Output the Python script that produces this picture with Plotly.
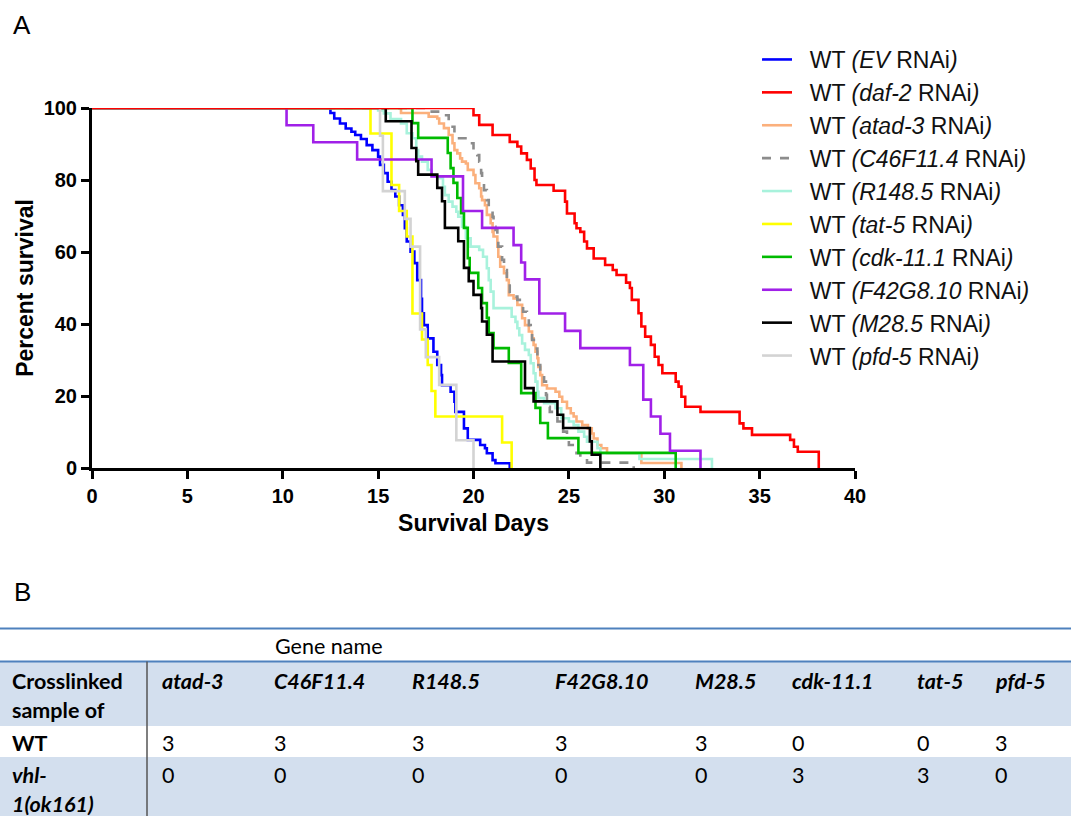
import plotly.graph_objects as go

# ---------------- Survival data (days, percent surviving after each step) ----------------
ev_days = [12.5, 12.7, 13.0, 13.3, 13.6, 13.8, 14.1, 14.4, 14.7, 15.0, 15.1, 15.3, 15.5, 15.7, 15.9,
           16.1, 16.3, 16.4, 16.5, 16.7, 16.9, 17.05, 17.25, 17.3, 17.4, 17.6, 17.9, 18.1, 18.3, 18.35,
           18.8, 19.0, 19.05, 19.5, 19.7, 20.35, 20.6, 20.7, 21.0, 21.15, 21.9]
ev_pct = [98.6, 97.1, 95.7, 94.3, 93.4, 92.5, 91.4, 89.7, 88.3, 86.5, 84.2, 81.9, 79.5, 77.2, 75.4,
          73.0, 70.3, 66.6, 62.9, 60.1, 56.9, 52.2, 47.0, 43.0, 39.7, 36.0, 32.3, 28.6, 25.8, 23.0,
          21.2, 18.4, 15.6, 11.0, 7.8, 6.4, 5.5, 4.1, 2.2, 1.3, 0.0]

daf2_days = [20.0, 20.3, 21.0, 21.9, 22.3, 22.5, 22.8, 23.0, 23.2, 23.3, 24.2, 24.8, 24.9, 25.3, 25.4,
             25.6, 25.8, 25.95, 26.3, 26.9, 27.3, 27.5, 28.0, 28.2, 28.3, 28.65, 28.8, 29.0, 29.3, 29.5,
             29.7, 29.9, 30.6, 30.75, 30.9, 31.1, 31.9, 33.95, 34.15, 34.6, 36.6, 36.8, 37.0, 38.1]
daf2_pct = [98.0, 95.3, 92.5, 90.6, 89.3, 87.4, 85.6, 83.2, 80.0, 78.6, 77.0, 74.0, 70.7, 68.0, 66.6,
            65.6, 62.9, 61.0, 58.2, 56.4, 55.0, 53.6, 51.5, 50.0, 46.7, 43.0, 39.3, 36.5, 34.2, 30.9,
            28.6, 26.3, 24.0, 22.6, 19.8, 17.0, 15.6, 12.4, 11.0, 9.2, 7.8, 5.9, 4.5, 0.0]

atad3_days = [16.2, 17.65, 18.1, 18.2, 18.45, 18.7, 18.9, 19.0, 19.15, 19.3, 19.4, 19.6, 19.7, 20.0,
              20.1, 20.3, 20.4, 20.45, 20.6, 20.7, 20.9, 21.0, 21.05, 21.25, 21.3, 21.4, 21.6, 21.75,
              21.85, 22.1, 22.3, 22.55, 22.7, 22.9, 23.07, 23.15, 23.25, 23.35, 23.4, 23.5, 23.6, 23.85,
              24.3, 24.5, 24.65, 24.9, 25.1, 25.25, 25.4, 25.7, 26.0, 26.2, 26.3, 26.5, 26.7, 27.0,
              28.8, 30.9]
atad3_pct = [98.6, 97.6, 97.1, 95.7, 94.4, 92.5, 90.2, 88.3, 87.4, 86.0, 85.1, 84.6, 82.8, 81.4,
             79.1, 77.7, 75.4, 74.4, 73.0, 70.3, 68.0, 65.6, 64.3, 61.5, 58.7, 55.9, 54.1, 52.2,
             48.0, 47.1, 45.3, 41.6, 39.7, 37.9, 36.0, 34.2, 32.3, 30.5, 28.1, 25.8, 23.0, 22.1,
             21.2, 19.8, 18.4, 16.6, 15.2, 14.3, 12.9, 11.9, 11.0, 9.6, 8.2, 6.4, 5.5, 4.1,
             1.4, 0.0]

c46_days = [17.6, 18.35, 18.7, 18.8, 19.0, 19.15, 19.85, 20.0, 20.2, 20.3, 20.4, 20.45, 20.55, 20.7,
            20.8, 21.0, 21.05, 21.15, 21.25, 21.3, 21.5, 21.6, 21.75, 21.9, 22.3, 22.55, 22.6, 22.8,
            22.9, 23.0, 23.07, 23.25, 23.35, 23.4, 23.5, 23.7, 23.8, 23.85, 23.95, 24.0, 24.2, 24.4,
            24.55, 24.7, 24.9, 25.0, 25.4, 25.6, 25.95, 28.4]
c46_pct = [99.0, 98.0, 96.4, 94.8, 93.0, 91.6, 90.2, 88.3, 86.9, 85.1, 81.9, 79.5, 77.2, 74.4,
           72.6, 69.8, 67.0, 66.1, 63.3, 61.5, 57.8, 55.0, 52.2, 47.6, 46.7, 45.3, 43.4, 41.6,
           39.7, 37.4, 35.6, 33.2, 30.9, 28.6, 26.8, 24.0, 20.3, 18.4, 17.0, 15.6, 14.3, 12.9,
           11.5, 10.1, 8.2, 6.4, 4.1, 2.7, 1.5, 0.0]

r148_days = [15.0, 15.3, 15.65, 16.2, 16.5, 16.8, 17.0, 17.1, 17.3, 17.6, 17.8, 18.1, 18.4, 18.5,
             18.7, 18.9, 19.1, 19.2, 19.4, 19.6, 19.85, 20.3, 20.5, 20.7, 20.8, 20.9, 21.05, 22.0,
             22.2, 22.3, 22.4, 22.55, 22.7, 22.9, 23.0, 23.15, 23.25, 23.35, 23.4, 23.7, 24.3, 24.6,
             25.0, 25.25, 25.5, 25.8, 25.95, 26.5, 26.65, 28.7, 32.5]
r148_pct = [99.3, 98.5, 96.9, 95.7, 93.0, 91.6, 88.3, 86.5, 85.1, 82.8, 81.4, 80.5, 78.1, 75.8,
            74.0, 72.6, 71.2, 69.8, 67.0, 63.8, 61.5, 60.6, 58.7, 55.5, 52.2, 49.0, 44.4, 42.0,
            40.6, 38.8, 36.9, 34.6, 32.8, 31.4, 29.1, 26.3, 24.0, 21.2, 19.4, 18.0, 16.6, 13.8,
            12.9, 11.9, 10.1, 8.7, 7.3, 5.5, 4.1, 2.5, 0.0]

tat5_days = [14.6, 15.7, 16.1, 16.5, 16.8, 17.3, 17.6, 17.8, 18.0, 21.5, 22.0]
tat5_pct = [92.9, 78.6, 71.4, 64.3, 42.9, 35.7, 28.6, 21.4, 14.3, 7.1, 0.0]

cdk11_days = [16.8, 17.1, 18.65, 18.8, 18.95, 19.15, 19.35, 19.5, 19.7, 19.8, 20.25, 20.45, 20.7,
              20.8, 21.05, 21.85, 22.5, 23.25, 23.5, 23.9, 25.5, 30.6]
cdk11_pct = [95.8, 91.7, 87.5, 83.3, 79.2, 75.0, 70.8, 66.7, 58.3, 54.2, 50.0, 45.8, 41.7,
             37.5, 33.3, 29.2, 20.8, 16.7, 12.5, 8.3, 4.2, 0.0]

f42_days = [10.2, 11.6, 13.9, 17.8, 19.45, 20.45, 22.1, 22.5, 22.7, 23.45, 24.8, 25.6, 28.2, 28.9,
            29.3, 29.8, 30.3, 31.9]
f42_pct = [95.2, 90.5, 85.7, 81.0, 71.4, 66.7, 61.9, 57.1, 52.4, 42.9, 38.1, 33.3, 28.6, 19.0,
           14.3, 9.5, 4.8, 0.0]

m28_days = [15.4, 16.75, 17.0, 17.1, 18.1, 18.35, 18.5, 19.2, 19.5, 19.75, 20.0, 20.4, 20.45, 20.7,
            21.0, 22.7, 23.15, 24.4, 24.7, 26.1, 26.2, 26.65]
m28_pct = [96.3, 88.9, 85.2, 81.5, 77.8, 74.1, 66.7, 63.0, 55.6, 51.9, 48.1, 44.4, 40.7, 37.0,
           29.6, 22.2, 18.5, 14.8, 11.1, 7.4, 3.7, 0.0]

pfd5_days = [15.1, 15.25, 16.4, 16.7, 17.2, 17.5, 18.2, 19.1, 20.0]
pfd5_pct = [92.3, 76.9, 69.2, 61.5, 38.5, 30.8, 23.1, 7.7, 0.0]

series_names = ["EV", "daf-2", "atad-3", "C46F11.4", "R148.5", "tat-5", "cdk-11.1", "F42G8.10",
                "M28.5", "pfd-5"]
series_days = [ev_days, daf2_days, atad3_days, c46_days, r148_days, tat5_days, cdk11_days, f42_days,
               m28_days, pfd5_days]
series_pct = [ev_pct, daf2_pct, atad3_pct, c46_pct, r148_pct, tat5_pct, cdk11_pct, f42_pct,
              m28_pct, pfd5_pct]
series_colors = ["#0000FF", "#FF0000", "#FBB07C", "#8C8C8C", "#A8F2DC", "#FFFF00", "#00BB00",
                 "#A020E8", "#000000", "#D3D3D3"]

# ---------------- Table data ----------------
gene_cols = ["atad-3", "C46F11.4", "R148.5", "F42G8.10", "M28.5", "cdk-11.1", "tat-5", "pfd-5"]
wt_counts = [3, 3, 3, 3, 3, 0, 0, 3]
vhl_counts = [0, 0, 0, 0, 0, 3, 3, 0]

# ---------------- Page geometry ----------------
W, H = 1071, 816
PL, PR, PT, PB = 92, 855, 108, 468   # plot area in pixels


def fx(px):
    return (px - PL) / (PR - PL)


def fy(py):
    return (PB - py) / (PB - PT)


AX_FONT = "Liberation Sans, Arial, sans-serif"
TB_FONT = "Lato, Open Sans, sans-serif"

fig = go.Figure()

# draw order: daf-2 last so its 100 % line sits on top
draw_order = [0, 2, 3, 4, 5, 6, 7, 8, 9, 1]
for i in draw_order:
    name = series_names[i]
    fig.add_trace(go.Scatter(
        x=[0] + series_days[i],
        y=[100] + series_pct[i],
        mode="lines",
        line=dict(color=series_colors[i], width=2.6, shape="hv",
                  dash="dash" if name == "C46F11.4" else "solid"),
        name=f"&nbsp;&nbsp;WT <i>({name}</i> RNAi<i>)</i>",
        legendrank=i + 1,
    ))

fig.update_layout(
    width=W, height=H,
    margin=dict(l=PL, r=W - PR, t=PT, b=H - PB, pad=0),
    paper_bgcolor="white", plot_bgcolor="white",
    showlegend=True,
    legend=dict(x=fx(757), y=fy(38), xanchor="left", yanchor="top",
                font=dict(family=AX_FONT, size=23, color="#111"),
                bgcolor="rgba(0,0,0,0)", borderwidth=0, tracegroupgap=0),
    xaxis=dict(range=[0, 40], tickmode="array", tickvals=list(range(0, 41, 5)),
               showline=True, linewidth=3, linecolor="black", mirror=False,
               ticks="outside", ticklen=8, tickwidth=3, tickcolor="black",
               showgrid=False, zeroline=False,
               tickfont=dict(family=AX_FONT, size=20, color="black", weight="bold"),
               title=dict(text="Survival Days", standoff=9,
                          font=dict(family=AX_FONT, size=23, color="black", weight="bold"))),
    yaxis=dict(range=[0, 100], tickmode="array", tickvals=list(range(0, 101, 20)),
               showline=True, linewidth=3, linecolor="black",
               ticks="outside", ticklen=8, tickwidth=3, tickcolor="black",
               showgrid=False, zeroline=False,
               tickfont=dict(family=AX_FONT, size=20, color="black", weight="bold"),
               title=dict(text="Percent survival", standoff=4,
                          font=dict(family=AX_FONT, size=23, color="black", weight="bold"))),
)

annotations = []
shapes = []

# panel letters
for letter, ly in [("A", 25), ("B", 592)]:
    annotations.append(dict(text=letter, x=fx(22), y=fy(ly), xref="paper", yref="paper",
                            xanchor="center", yanchor="middle", showarrow=False,
                            font=dict(family=AX_FONT, size=26, color="black")))

# ---------------- Table (panel B) ----------------
SHADE = "#D3DFEE"
RULE = "#4F81BD"
for y0, y1 in [(661.5, 726), (757, 816)]:
    shapes.append(dict(type="rect", xref="paper", yref="paper", x0=fx(0), x1=fx(W),
                       y0=fy(y1), y1=fy(y0), fillcolor=SHADE, line=dict(width=0), layer="below"))
for yy in [628.5, 661.5]:
    shapes.append(dict(type="line", xref="paper", yref="paper", x0=fx(0), x1=fx(W),
                       y0=fy(yy), y1=fy(yy), line=dict(color=RULE, width=2)))
shapes.append(dict(type="line", xref="paper", yref="paper", x0=fx(147), x1=fx(147),
                   y0=fy(661.5), y1=fy(816), line=dict(color="#555555", width=1.5)))

col_x = [160, 272, 410, 553, 693, 790, 915, 993]


def tb_text(txt, px, py, size=21.5, bold=False, italic=False):
    t = txt
    if bold:
        t = f"<b>{t}</b>"
    if italic:
        t = f"<i>{t}</i>"
    annotations.append(dict(text=t, x=fx(px), y=fy(py), xref="paper", yref="paper",
                            xanchor="left", yanchor="middle", showarrow=False,
                            font=dict(family=TB_FONT, size=size, color="black")))


tb_text("Gene name", 273, 646)
tb_text("Crosslinked", 10, 681, bold=True)
tb_text("sample of", 10, 710, bold=True)
tb_text("WT", 10, 743, bold=True)
tb_text("vhl-", 10, 775, bold=True, italic=True)
tb_text("1(ok161)", 10, 804, bold=True, italic=True)
for g, cx, a, b in zip(gene_cols, col_x, wt_counts, vhl_counts):
    tb_text(g, cx, 681, bold=True, italic=True)
    tb_text(str(a), cx, 743)
    tb_text(str(b), cx, 775)

fig.update_layout(annotations=annotations, shapes=shapes)
fig.write_html("out.html")
